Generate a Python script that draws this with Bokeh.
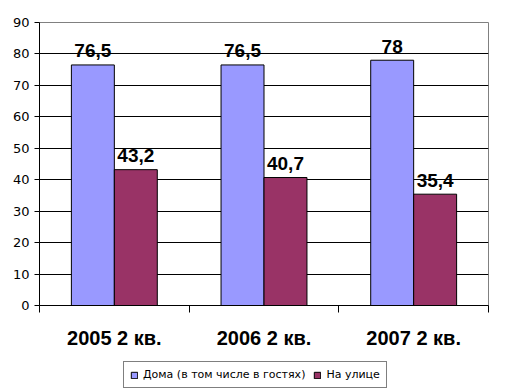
from bokeh.plotting import figure
from bokeh.layouts import column
from bokeh.models import (ColumnDataSource, FixedTicker, LinearAxis, Legend, LegendItem, Range1d)
from bokeh.core.properties import value
from bokeh.embed import file_html
from bokeh.resources import INLINE

categories = ["2005 2 кв.", "2006 2 кв.", "2007 2 кв."]
series_names = ["Дома (в том числе в гостях)", "На улице"]
home = [76.5, 76.5, 78]
street = [43.2, 40.7, 35.4]
y_ticks = [0, 10, 20, 30, 40, 50, 60, 70, 80, 90]

colors = ["#9999FF", "#993366"]
bar_w = 0.287

def fmt(v):
    return ("%g" % v).replace(".", ",")

centers = [i + 0.5 for i in range(len(categories))]

p = figure(frame_width=449, frame_height=283, output_backend="svg", toolbar_location=None,
           x_range=Range1d(0, len(categories)), y_range=Range1d(0, 90),
           min_border_left=39, min_border_right=27, min_border_top=22, min_border_bottom=50,
           x_axis_type=None)
p.outline_line_color = "#808080"
p.outline_line_width = 1
p.background_fill_color = "white"
p.border_fill_color = "white"

for k, vals in enumerate([home, street]):
    xs = [c + (k - 0.5) * bar_w for c in centers]
    src = ColumnDataSource(dict(x=xs, top=vals, lab=[fmt(v) for v in vals]))
    p.vbar(x="x", top="top", width=bar_w, bottom=0, source=src,
           fill_color=colors[k], line_color="black", line_width=1)
    p.text(x="x", y="top", text="lab", source=src, text_align="center",
           text_baseline="alphabetic", y_offset=-14,
           text_font=value("Liberation Sans"), text_font_style="bold",
           text_font_size="19px", text_color="black")

xax = LinearAxis()
xax.ticker = FixedTicker(ticks=centers, minor_ticks=list(range(len(categories) + 1)))
xax.major_label_overrides = {c: categories[i] for i, c in enumerate(centers)}
xax.major_tick_line_color = None
xax.major_tick_out = 0
xax.major_tick_in = 0
xax.minor_tick_out = 7
xax.minor_tick_in = 0
xax.minor_tick_line_color = "black"
xax.axis_line_color = "black"
xax.major_label_standoff = 14
xax.major_label_text_font = "Liberation Sans"
xax.major_label_text_font_style = "bold"
xax.major_label_text_font_size = "20px"
xax.major_label_text_color = "black"
p.add_layout(xax, "below")

yax = p.yaxis[0]
yax.ticker = FixedTicker(ticks=y_ticks)
yax.minor_tick_line_color = None
yax.major_tick_out = 5
yax.major_tick_in = 0
yax.major_label_standoff = 5
yax.major_label_text_font = "DejaVu Sans"
yax.major_label_text_font_size = "13px"
yax.major_label_text_color = "black"
yax.axis_line_color = "black"

p.xgrid.visible = False
p.ygrid.ticker = FixedTicker(ticks=y_ticks[1:-1])
p.ygrid.grid_line_color = "black"
p.ygrid.grid_line_width = 1

# legend strip
q = figure(frame_width=515, frame_height=36, output_backend="svg", toolbar_location=None,
           x_range=Range1d(0, 1), y_range=Range1d(0, 1),
           min_border_left=0, min_border_right=0, min_border_top=0, min_border_bottom=0,
           x_axis_type=None, y_axis_type=None)
q.outline_line_color = None
q.xgrid.visible = False
q.ygrid.visible = False
q.border_fill_color = "white"
leg_r = []
for k in range(2):
    leg_r.append(q.vbar(x=[-10], top=[-10], bottom=[-11], width=0.1, fill_color=colors[k],
                        line_color="black", line_width=1))
legend = Legend(items=[LegendItem(label=series_names[i], renderers=[leg_r[i]]) for i in range(2)],
                orientation="horizontal", location=(123, 3),
                border_line_color="black", border_line_width=1,
                padding=6, spacing=8, label_standoff=5,
                glyph_width=8, glyph_height=8,
                label_text_font="DejaVu Sans", label_text_font_size="11px",
                label_text_color="black", margin=0, label_height=12)
q.add_layout(legend, "center")

open("out.html", "w").write(file_html(column(p, q, spacing=0), INLINE))
